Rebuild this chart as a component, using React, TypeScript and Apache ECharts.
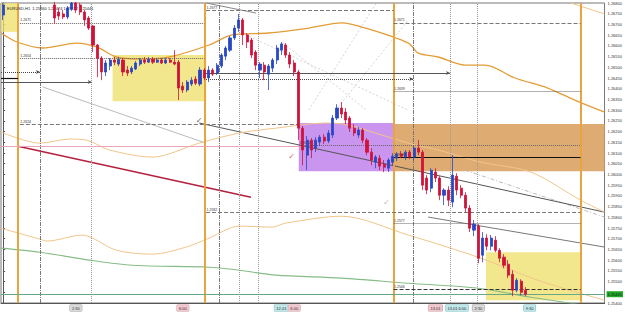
import React, { useEffect, useRef } from 'react';
import * as echarts from 'echarts';

// ---------- data ----------
const SYMBOL_HEADER = 'EURUSD,H1  1.25460 1.25474 1.25432 1.25441';
const PRICE_MIN = 1.254;
const PRICE_MAX = 1.268;
const PRICE_STEP = 0.0005;
const BAR_SLOTS = 141;
const LAST_PRICE = 1.25441;

const E = ['-', '-', '-', '-'];
// [open, close, low, high]
const CANDLES: any[] = [
  [1.26744, 1.26791, 1.26721, 1.268],
  E, E, E, E, E, E, E, E, E, E, E,
  [1.26791, 1.2673, 1.26702, 1.26805],
  [1.26758, 1.26739, 1.26721, 1.26777],
  [1.26749, 1.26735, 1.26725, 1.26767],
  [1.26735, 1.26777, 1.26725, 1.26786],
  [1.26772, 1.268, 1.26763, 1.26805],
  [1.268, 1.26767, 1.26753, 1.26805],
  [1.26791, 1.26758, 1.26744, 1.268],
  [1.26758, 1.26721, 1.26693, 1.26767],
  [1.2673, 1.26683, 1.26674, 1.26739],
  [1.26693, 1.26604, 1.26571, 1.26697],
  [1.26604, 1.26543, 1.26454, 1.26609],
  [1.26543, 1.26478, 1.2644, 1.26552],
  [1.26478, 1.2652, 1.26459, 1.26534],
  [1.26506, 1.26534, 1.26487, 1.26543],
  [1.26534, 1.26524, 1.2651, 1.26548],
  [1.26515, 1.26538, 1.26506, 1.26548],
  [1.26534, 1.26478, 1.26459, 1.26543],
  [1.26487, 1.26473, 1.26459, 1.26506],
  [1.26478, 1.26496, 1.26468, 1.26506],
  [1.26492, 1.2652, 1.26487, 1.26529],
  [1.26515, 1.26534, 1.26506, 1.26543],
  [1.26534, 1.26524, 1.26515, 1.26548],
  [1.26524, 1.26538, 1.2652, 1.26548],
  [1.26538, 1.26524, 1.26515, 1.26548],
  [1.26524, 1.26534, 1.2652, 1.26543],
  [1.26534, 1.2652, 1.26515, 1.26543],
  [1.2652, 1.26534, 1.26515, 1.26543],
  [1.26534, 1.26524, 1.2652, 1.26543],
  [1.26524, 1.26515, 1.2651, 1.2658],
  [1.26524, 1.26403, 1.26347, 1.26534],
  [1.26412, 1.26394, 1.2638, 1.26431],
  [1.26394, 1.26431, 1.26384, 1.2644],
  [1.26422, 1.2644, 1.26412, 1.26454],
  [1.26445, 1.26426, 1.26417, 1.26459],
  [1.26422, 1.26487, 1.26412, 1.26501],
  [1.26487, 1.2645, 1.2644, 1.26496],
  [1.2645, 1.26487, 1.26431, 1.26506],
  [1.26487, 1.26468, 1.26459, 1.26496],
  [1.26473, 1.2651, 1.26464, 1.2652],
  [1.26506, 1.26557, 1.26496, 1.26566],
  [1.26552, 1.2659, 1.26534, 1.26599],
  [1.2658, 1.26637, 1.26571, 1.26646],
  [1.26637, 1.26683, 1.26627, 1.26697],
  [1.26683, 1.26721, 1.26665, 1.26749],
  [1.26721, 1.26651, 1.26604, 1.2673],
  [1.26651, 1.26618, 1.2659, 1.2666],
  [1.26627, 1.26557, 1.26543, 1.26637],
  [1.26571, 1.2651, 1.26487, 1.2658],
  [1.26487, 1.26515, 1.2645, 1.26524],
  [1.2651, 1.26478, 1.2644, 1.26524],
  [1.26468, 1.26506, 1.26394, 1.26515],
  [1.26496, 1.26534, 1.26478, 1.26543],
  [1.26534, 1.2659, 1.26515, 1.26604],
  [1.2658, 1.26609, 1.26557, 1.26618],
  [1.26604, 1.26557, 1.26543, 1.26613],
  [1.26557, 1.26515, 1.26496, 1.26571],
  [1.2652, 1.26478, 1.26459, 1.26534],
  [1.26478, 1.26216, 1.2616, 1.26487],
  [1.26216, 1.26114, 1.26043, 1.26226],
  [1.2609, 1.2616, 1.2602, 1.26179],
  [1.2616, 1.26114, 1.26076, 1.2617],
  [1.26123, 1.2616, 1.26104, 1.26174],
  [1.26151, 1.26174, 1.26132, 1.26184],
  [1.26174, 1.26156, 1.26142, 1.26188],
  [1.26156, 1.26193, 1.26146, 1.26207],
  [1.26184, 1.26263, 1.2617, 1.26277],
  [1.26263, 1.2631, 1.26254, 1.26328],
  [1.2631, 1.26282, 1.26263, 1.26338],
  [1.26291, 1.26254, 1.26235, 1.2631],
  [1.26263, 1.26216, 1.26198, 1.26272],
  [1.26216, 1.26193, 1.26179, 1.26235],
  [1.26184, 1.26207, 1.2617, 1.26221],
  [1.26207, 1.2616, 1.26146, 1.26216],
  [1.2616, 1.26104, 1.2609, 1.2617],
  [1.26104, 1.26067, 1.26043, 1.26123],
  [1.26057, 1.26081, 1.26029, 1.2609],
  [1.26076, 1.26039, 1.2602, 1.2609],
  [1.26048, 1.26034, 1.26011, 1.26067],
  [1.26029, 1.26067, 1.26011, 1.26076],
  [1.26057, 1.26085, 1.26043, 1.26099],
  [1.26076, 1.26095, 1.26062, 1.26104],
  [1.26095, 1.26085, 1.26076, 1.26109],
  [1.26081, 1.26104, 1.26067, 1.26114],
  [1.26104, 1.26081, 1.26071, 1.26114],
  [1.26081, 1.26123, 1.26067, 1.26132],
  [1.26123, 1.26104, 1.2609, 1.2616],
  [1.26104, 1.2595, 1.25927, 1.26114],
  [1.25983, 1.25927, 1.25908, 1.25997],
  [1.25936, 1.2602, 1.25917, 1.26029],
  [1.26011, 1.25983, 1.25964, 1.26029],
  [1.25983, 1.25903, 1.2588, 1.25992],
  [1.25903, 1.25927, 1.25857, 1.25936],
  [1.25927, 1.2588, 1.25852, 1.25945],
  [1.25871, 1.25997, 1.25847, 1.2609],
  [1.25992, 1.25927, 1.25903, 1.26006],
  [1.25936, 1.25903, 1.25889, 1.2595],
  [1.25903, 1.25843, 1.25824, 1.25917],
  [1.25843, 1.25749, 1.25731, 1.25857],
  [1.2574, 1.25768, 1.25712, 1.25787],
  [1.25759, 1.25609, 1.25586, 1.25768],
  [1.25623, 1.25703, 1.2559, 1.25731],
  [1.25703, 1.25665, 1.25646, 1.25721],
  [1.25665, 1.25703, 1.25646, 1.25717],
  [1.25693, 1.25646, 1.25637, 1.25712],
  [1.25646, 1.25609, 1.2559, 1.25656],
  [1.25614, 1.25576, 1.25562, 1.25628],
  [1.25581, 1.2553, 1.25516, 1.256],
  [1.25534, 1.2546, 1.25432, 1.25553],
  [1.2546, 1.25506, 1.2545, 1.25516],
  [1.25502, 1.2545, 1.25436, 1.25511],
  [1.2546, 1.25441, 1.25432, 1.25474],
];

// moving averages / envelopes: [bar position, price]
const MA_MAIN = [
  [-0.5, 1.2666], [3.22, 1.26618], [9.27, 1.2659], [17.18, 1.26613], [21.84, 1.26595],
  [26.49, 1.26548], [32.54, 1.26538], [38.82, 1.26548], [48.13, 1.26604], [53.48, 1.26651],
  [62.09, 1.2666], [71.4, 1.26683], [79.07, 1.26707], [84.65, 1.26683], [94.66, 1.26613],
  [96.99, 1.26566], [101.64, 1.26548], [107.92, 1.2651], [112.57, 1.2651], [119.55, 1.2645],
  [127.23, 1.26403], [133.52, 1.26347], [140.5, 1.26291],
];
const BAND_UPPER = [
  [-0.5, 1.26198], [8.57, 1.26146], [15.55, 1.26165], [19.51, 1.2616], [24.86, 1.26114],
  [34.87, 1.26081], [45.8, 1.26146], [55.11, 1.26193], [63.72, 1.26216], [75.35, 1.2624],
  [80.7, 1.2623], [94.66, 1.26146], [101.64, 1.26114], [111.64, 1.26057], [123.28, 1.26011],
  [134.9, 1.2588], [140.5, 1.25824],
];
const BAND_UPPER_OUTER = [[132.6, 1.268], [140.5, 1.26749]];
const BAND_LOWER = [
  [-0.5, 1.25749], [8.57, 1.25698], [10.2, 1.25689], [18.58, 1.25717], [20.9, 1.25703],
  [26.49, 1.25646], [34.87, 1.25628], [42.78, 1.25661], [48.13, 1.25703], [55.11, 1.25759],
  [62.79, 1.25754], [66.04, 1.25773], [79.07, 1.25805], [94.66, 1.25717], [111.64, 1.25609],
  [124.9, 1.25506], [140.5, 1.25413],
];
const MA_SLOW = [
  [-0.5, 1.25656], [8.57, 1.25637], [20.2, 1.256], [30.21, 1.25576], [48.13, 1.25567],
  [55.11, 1.25553], [63.72, 1.2553], [79.07, 1.25516], [94.66, 1.25492], [110.95, 1.25469],
  [123.28, 1.25427], [140.5, 1.25376],
];

// drawn trend lines
const RED_TREND = [[3.46, 1.26132], [57.9, 1.25894]];
const CHANNEL_UPPER = [[45.8, 1.2624], [140.5, 1.25824]];
const CHANNEL_LOWER = [[99.3, 1.25801], [140.5, 1.25661]];
const LIGHT_TREND = [[9.27, 1.26408], [47.4, 1.26146]];
const TOP_TREND = [[47.4, 1.268], [59.1, 1.26753]];
const FAN_LINES = [
  [[55.8, 1.2666], [94.66, 1.263]],
  [[65.4, 1.26613], [84.9, 1.263]],
  [[71.4, 1.263], [87.2, 1.268]],
  [[77.7, 1.263], [94.66, 1.26721]],
];
const DASHED_TREND = [[107.9, 1.2602], [140.5, 1.25801]];

// horizontal levels: [price, from bar, to bar]
const LEVELS_DASHED = [
  [1.26767, 47.4, 91.2],
  [1.26707, 91.2, 134.9],
  [1.26235, 3.9, 69.1],
  [1.25824, 47.4, 134.9],
];
const LEVELS_DOTTED = [
  [1.26707, 3.9, 47.0],
  [1.26543, 3.9, 47.0],
  [1.26389, 91.2, 134.9],
  [1.26137, 69.1, 134.9],
  [1.25773, 91.2, 134.9],
];
const LEVELS_DARK_DASHED = [[1.25464, 91.2, 134.9]];
const LEVELS_SOLID = [[1.26081, 91.2, 134.9]];
const LEVELS_STUB = [[1.2645, -0.5, 3.5]];
const LEVELS_PINK = [[1.26132, -0.5, 69.1]];
const ARROW_LEVELS_DOTTED = [[1.26478, -0.5, 8.6], [1.26445, 47.4, 95.8]];
const ARROW_LEVELS_SOLID = [[1.26431, -0.5, 20.7], [1.26473, 47.4, 104.4]];

// vertical markers (bar positions)
const SESSION_LINES = [3.46, 47.2, 91.2, 134.9];
const DASHDOT_VERTICALS = [8.57, 50.45, 95.8];
const DOTTED_VERTICALS = [20.7, 55.1, 59.5, 104.4, 110.7];

// zones: [from bar, to bar, top price, bottom price]
const YELLOW_ZONES = [
  [-0.5, 3.46, 1.268, 1.26665],
  [25.56, 47.43, 1.26557, 1.26342],
  [112.8, 134.9, 1.25637, 1.25413],
];
const PURPLE_ZONE = [69.07, 91.2, 1.2624, 1.26015];
const TAN_ZONE = [91.2, 140.5, 1.26235, 1.26015];

const CHECKS = [[45.8, 1.26254], [67.4, 1.26085], [89.5, 1.25871]];

const TIME_LABELS: [number, string][] = [
  [17, '2:30'],
  [42, '6:00'],
  [65, '12.01'],
  [68, '6:00'],
  [101, '13.01'],
  [106, '13.01 6:00'],
  [111, '2:30'],
  [123, '9:30'],
];
const TIME_LABEL_TONES = ['g', 'p', 'c', 'p', 'p', 'c', 'g', 'c'];

// ---------- option ----------
function buildOption() {
  const categories = Array.from({ length: BAR_SLOTS }, (_, i) => String(i));
  const labelMap = new Map<number, string>();
  TIME_LABELS.forEach(([i, t], k) => labelMap.set(i, `{${TIME_LABEL_TONES[k]}|${t}}`));

  const lvlLabel = (p: number) => ({
    show: true,
    position: 'insideStartTop',
    formatter: p.toFixed(4),
    fontSize: 3.5,
    color: '#333',
    distance: 0.5,
  });

  const seg = (lv: number[], lineStyle: any, withLabel: boolean, arrow = false) => [
    { coord: [lv[1], lv[0]], symbol: 'none', lineStyle, label: withLabel ? lvlLabel(lv[0]) : { show: false } },
    arrow ? { coord: [lv[2], lv[0]], symbol: 'arrow', symbolSize: [3, 4] } : { coord: [lv[2], lv[0]], symbol: 'none' },
  ];

  const hData: any[] = [
    ...LEVELS_PINK.map((l) => seg(l, { color: '#e8a6b8', width: 1.2, type: 'solid' }, false)),
    ...LEVELS_DASHED.map((l) => seg(l, { color: '#777', width: 1, type: [4, 2] }, true)),
    ...LEVELS_DOTTED.map((l) => seg(l, { color: '#666', width: 1, type: [1, 1] }, true)),
    ...LEVELS_DARK_DASHED.map((l) => seg(l, { color: '#333', width: 1, type: [4, 2] }, true)),
    ...LEVELS_SOLID.map((l) => seg(l, { color: '#111', width: 1, type: 'solid' }, true)),
    ...LEVELS_STUB.map((l) => seg(l, { color: '#111', width: 1.2, type: 'solid' }, false)),
    ...ARROW_LEVELS_DOTTED.map((l) => seg(l, { color: '#444', width: 1, type: [1, 1] }, false, true)),
    ...ARROW_LEVELS_SOLID.map((l) => seg(l, { color: '#555', width: 1, type: 'solid' }, false, true)),
    [
      {
        coord: [-0.5, LAST_PRICE],
        symbol: 'none',
        lineStyle: { color: '#68a888', width: 1, type: 'solid' },
        label: {
          show: true,
          position: 'end',
          formatter: LAST_PRICE.toFixed(5),
          backgroundColor: '#22a82a',
          color: '#0a2a0a',
          fontSize: 4,
          padding: [1, 1],
          distance: 2,
        },
      },
      { coord: [BAR_SLOTS - 0.5, LAST_PRICE], symbol: 'none' },
    ],
  ];

  const vData: any[] = [
    ...DOTTED_VERTICALS.map((x) => ({ xAxis: x, lineStyle: { color: '#9a9a9a', width: 1, type: [1, 1] } })),
    ...DASHDOT_VERTICALS.map((x) => ({ xAxis: x, lineStyle: { color: '#777', width: 1, type: [4, 1, 1, 1] } })),
    ...SESSION_LINES.map((x) => ({ xAxis: x, lineStyle: { color: '#e9a43f', width: 2, type: 'solid' } })),
  ];

  const zone = (z: number[], color: string) => [
    { xAxis: z[0], yAxis: z[2], itemStyle: { color } },
    { xAxis: z[1], yAxis: z[3] },
  ];

  const line = (data: number[][], color: string, width: number, z = 4, type: any = 'solid', smooth: any = false) => ({
    type: 'line',
    xAxisIndex: 1,
    yAxisIndex: 0,
    data,
    symbol: 'none',
    silent: true,
    smooth,
    z,
    lineStyle: { color, width, type },
  });

  const hostBase = {
    type: 'line',
    xAxisIndex: 1,
    yAxisIndex: 0,
    data: [[-0.5, PRICE_MIN]],
    symbol: 'none',
    silent: true,
    lineStyle: { opacity: 0 },
  };

  return {
    animation: false,
    backgroundColor: '#ffffff',
    textStyle: { fontFamily: 'Liberation Sans' },
    title: {
      text: SYMBOL_HEADER,
      left: 2,
      top: 1,
      textStyle: { fontSize: 4, fontWeight: 'normal', color: '#222', fontFamily: 'Liberation Sans' },
    },
    grid: { left: 1, right: 18, top: 3, bottom: 11, show: true, borderColor: '#777', borderWidth: 1, backgroundColor: '#fff' },
    xAxis: [
      {
        type: 'category',
        data: categories,
        boundaryGap: true,
        axisLine: { lineStyle: { color: '#555' } },
        axisTick: { interval: 4, length: 2, lineStyle: { color: '#555' } },
        axisLabel: {
          interval: (i: number) => labelMap.has(i),
          formatter: (_v: string, i: number) => labelMap.get(i) || '',
          fontSize: 4,
          margin: 2,
          color: '#333',
          rich: {
            g: { backgroundColor: '#d9d9d9', padding: [1, 2], fontSize: 4, borderColor: '#999', borderWidth: 0.5 },
            p: { backgroundColor: '#f3c6cf', padding: [1, 2], fontSize: 4, borderColor: '#c99', borderWidth: 0.5 },
            c: { backgroundColor: '#bfe6e8', padding: [1, 2], fontSize: 4, borderColor: '#7bb', borderWidth: 0.5 },
          },
        },
        splitLine: { show: false },
      },
      { type: 'value', min: -0.5, max: BAR_SLOTS - 0.5, show: false },
    ],
    yAxis: {
      type: 'value',
      position: 'right',
      min: PRICE_MIN,
      max: PRICE_MAX,
      interval: PRICE_STEP,
      axisLine: { show: true, lineStyle: { color: '#555' } },
      axisTick: { show: true, length: 2, lineStyle: { color: '#555' } },
      axisLabel: {
        fontSize: 4,
        margin: 3,
        color: '#333',
        // the tick hidden behind the last-price tag is not printed
        formatter: (v: number) => (Math.abs(v - LAST_PRICE) < PRICE_STEP / 2 ? '' : v.toFixed(5)),
      },
      splitLine: { show: false },
    },
    series: [
      {
        ...hostBase,
        z: 1,
        markArea: {
          silent: true,
          data: [
            ...YELLOW_ZONES.map((z) => zone(z, 'rgba(240,224,110,0.78)')),
            zone(PURPLE_ZONE, '#c995ee'),
            zone(TAN_ZONE, '#deac72'),
          ],
        },
      },
      {
        ...hostBase,
        z: 2,
        markLine: { silent: true, symbol: ['none', 'none'], label: { show: false }, data: vData },
      },
      {
        ...hostBase,
        z: 3,
        markLine: { silent: true, symbol: ['none', 'none'], label: { show: false }, data: hData },
      },
      ...FAN_LINES.map((f) => line(f, '#c8c8c8', 0.8, 3, [2, 2])),
      line(LIGHT_TREND, '#bbbbbb', 1, 3),
      line(TOP_TREND, '#888888', 1, 3),
      line(DASHED_TREND, '#bbbbbb', 1, 3, [4, 2, 1, 2]),
      line(CHANNEL_UPPER, '#555555', 1, 4),
      line(CHANNEL_LOWER, '#777777', 1, 4),
      line(RED_TREND, '#b5203f', 1.5, 4),
      line(BAND_UPPER, '#f0c58a', 1, 4, 'solid', 0.3),
      line(BAND_UPPER_OUTER, '#f0c58a', 1, 4),
      line(BAND_LOWER, '#f0c58a', 1, 4, 'solid', 0.3),
      line(MA_SLOW, '#86bd86', 1.1, 4, 'solid', 0.3),
      line(MA_MAIN, '#e49c35', 1.3, 4, 'solid', 0.3),
      {
        type: 'candlestick',
        xAxisIndex: 0,
        yAxisIndex: 0,
        data: CANDLES,
        barWidth: 2.6,
        z: 6,
        silent: true,
        itemStyle: {
          color: '#2747c4',
          color0: '#cf1238',
          borderColor: '#2747c4',
          borderColor0: '#cf1238',
          borderWidth: 0.8,
        },
      },
      {
        type: 'scatter',
        xAxisIndex: 1,
        yAxisIndex: 0,
        z: 7,
        silent: true,
        symbolSize: 0,
        data: CHECKS.map((c, k) => ({
          value: c,
          label: { color: ['#333', '#c8323c', '#aaaaaa'][k] },
        })),
        label: {
          show: true,
          position: 'inside',
          formatter: '\u2713',
          fontSize: 8,
          fontFamily: 'DejaVu Sans',
        },
      },
    ],
  };
}

export default function App() {
  const ref = useRef<HTMLDivElement>(null);
  useEffect(() => {
    if (!ref.current) return;
    const chart = echarts.init(ref.current, null, { renderer: 'svg' });
    chart.setOption(buildOption() as any);
    return () => chart.dispose();
  }, []);
  return <div ref={ref} style={{ position: 'fixed', left: 0, top: 0, width: 625, height: 314 }} />;
}
